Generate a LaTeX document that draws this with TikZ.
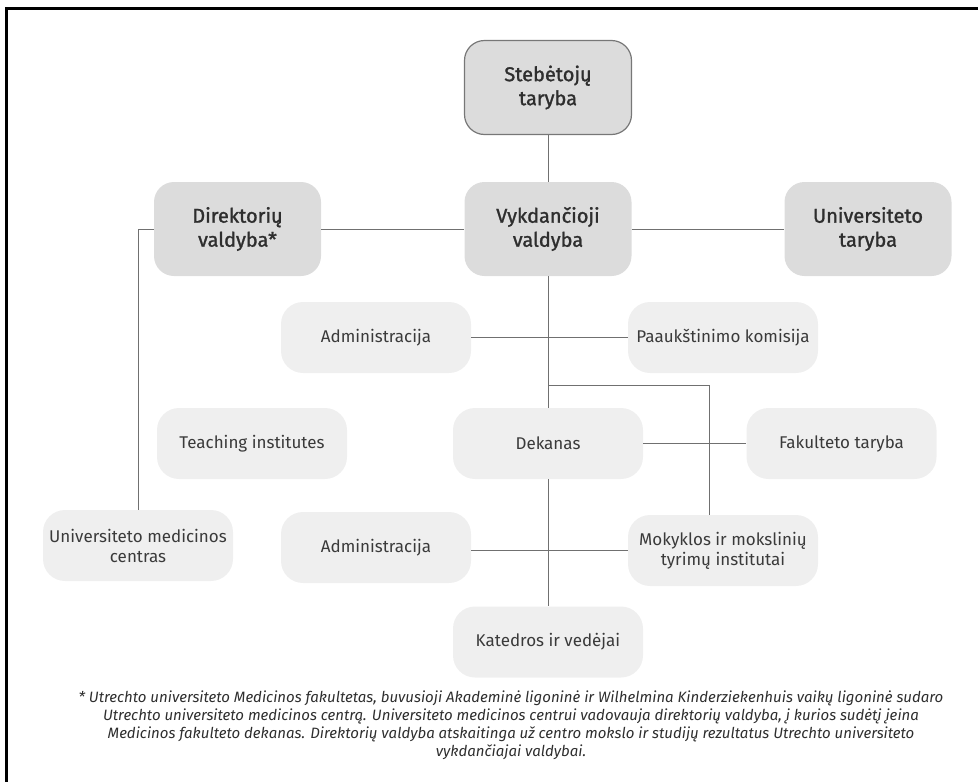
\documentclass[tikz,border=0pt]{standalone}
\usepackage{fontspec}
\setmainfont{Fira Sans}
\newfontfamily\medfont{Fira Sans}[FakeBold=1.3]
\usetikzlibrary{calc}
\definecolor{topfill}{HTML}{DCDCDC}
\definecolor{subfill}{HTML}{EFEFEF}
\definecolor{bordergray}{HTML}{777777}
\definecolor{linegray}{HTML}{707070}
\definecolor{txtdark}{HTML}{2E2E2E}
\definecolor{txtsub}{HTML}{3A3A3A}
\begin{document}
\begin{tikzpicture}[x=1pt,y=-1pt,
  topbox/.style={rectangle, rounded corners=20pt, fill=topfill, minimum width=167pt, minimum height=94pt, inner sep=0pt, align=center, font=\medfont\fontsize{20}{24}\selectfont, text=txtdark},
  subbox/.style={rectangle, rounded corners=22pt, fill=subfill, minimum width=190pt, minimum height=71pt, inner sep=0pt, align=center, font=\fontsize{17}{20}\selectfont, text=txtsub},
  conn/.style={draw=linegray, line width=1pt}]
\useasboundingbox (0,0) rectangle (978,782);
\coordinate (fbl) at (6.5,782);
\coordinate (ftl) at (6.5,8.7);
\coordinate (ftr) at (978,8.7);
\draw[line width=2.7pt] (fbl) -- (ftl) -- (ftr);

\node[topbox, draw=bordergray, line width=1.2pt] (st) at (548,87.5) {Stebėtojų\\taryba};
\node[topbox] (dv) at (237.5,229) {Direktorių\\valdyba*};
\node[topbox] (vv) at (548,229) {Vykdančioji\\valdyba};
\node[topbox] (ut) at (868,229) {Universiteto\\taryba};

\node[subbox] (adm1) at (376,337.5) {Administracija};
\node[subbox] (pk) at (723,337.5) {Paaukštinimo komisija};
\node[subbox] (ti) at (252,443.5) {Teaching institutes};
\node[subbox] (dek) at (548,443.5) {Dekanas};
\node[subbox] (ft) at (841.5,443.5) {Fakulteto taryba};
\node[subbox] (umc) at (138,545.5) {Universiteto medicinos\\centras};
\node[subbox] (adm2) at (376,547.5) {Administracija};
\node[subbox] (mok) at (723,550.5) {Mokyklos ir mokslinių\\tyrimų institutai};
\node[subbox] (kat) at (548,642) {Katedros ir vedėjai};

\draw[conn] (st.south) -- (vv.north);
\draw[conn] (dv.east) -- (vv.west);
\draw[conn] (vv.east) -- (ut.west);
\draw[conn] (dv.west) -| (umc.north);
\draw[conn] (vv.south) -- (dek.north);
\draw[conn] (adm1.east) -- (pk.west);
\coordinate (br) at (548,385);
\coordinate (mtop) at ($(mok.north)+(-14,0)$);
\draw[conn] (br) -| (mtop);
\draw[conn] (dek.east) -- (ft.west);
\draw[conn] (dek.south) -- (kat.north);
\draw[conn] (adm2.east |- mok.west) -- (mok.west);

\node[align=center, font=\fontsize{15}{18}\selectfont\itshape, text=txtdark, inner sep=0pt] (fn) at (511,725) {%
* Utrechto universiteto Medicinos fakultetas, buvusioji Akademinė ligoninė ir Wilhelmina Kinderziekenhuis vaikų ligoninė sudaro\\
Utrechto universiteto medicinos centrą. Universiteto medicinos centrui vadovauja direktorių valdyba, į kurios sudėtį įeina\\
Medicinos fakulteto dekanas. Direktorių valdyba atskaitinga už centro mokslo ir studijų rezultatus Utrechto universiteto\\
vykdančiajai valdybai.};
\end{tikzpicture}
\end{document}
